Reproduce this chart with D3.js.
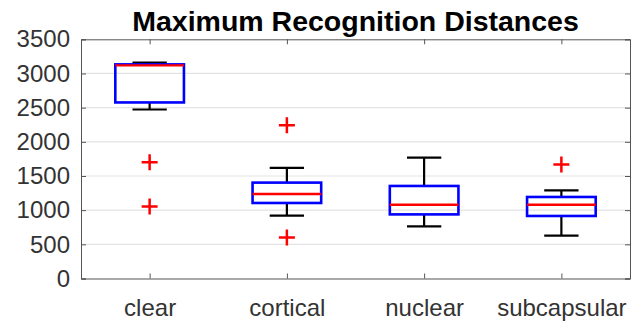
<!DOCTYPE html>
<html><head><meta charset="utf-8">
<script src="https://cdn.jsdelivr.net/npm/d3@7"></script>
<style>body{margin:0;background:#fff;} svg{display:block;}</style>
</head><body>
<svg id="c" width="632" height="325"></svg>
<script>
const categories = ["clear", "cortical", "nuclear", "subcapsular"];
const lowerWhisker = [2473, 919, 762, 626];
const q1 = [2576, 1105, 938, 915];
const median = [3118, 1237, 1080, 1080];
const q3 = [3133, 1403, 1354, 1193];
const upperWhisker = [3158, 1618, 1769, 1290];
const outliers = [[1700, 1055], [2243, 601], [], [1667]];
const yTicks = [0, 500, 1000, 1500, 2000, 2500, 3000, 3500];
const title = "Maximum Recognition Distances";

const svg = d3.select("#c");
const L = 81, R = 630, T = 39.3, B = 278.5;
const x = d3.scaleLinear().domain([0.5, 4.5]).range([L, R]);
const y = d3.scaleLinear().domain([0, 3500]).range([B, T]);
const axisColor = "#555";
const font = "Liberation Sans, Arial, sans-serif";

// grid
svg.append("g").selectAll("line").data(yTicks.slice(1, -1)).join("line")
  .attr("x1", L).attr("x2", R).attr("y1", d => y(d)).attr("y2", d => y(d))
  .attr("stroke", "#e3e3e3").attr("stroke-width", 1.2);

// axes
const yAxis = d3.axisLeft(y).tickValues(yTicks).tickFormat(d3.format("d")).tickSize(-5).tickPadding(11);
const gy = svg.append("g").attr("transform", `translate(${L},0)`).call(yAxis);
gy.select(".domain").attr("stroke", axisColor);
gy.selectAll(".tick line").attr("stroke", axisColor);
gy.selectAll("text").attr("font-family", font).attr("font-size", 24).attr("fill", "#333");

const gyR = svg.append("g").attr("transform", `translate(${R},0)`).call(d3.axisRight(y).tickValues(yTicks).tickSize(-5).tickFormat(""));
gyR.select(".domain").attr("stroke", axisColor);
gyR.selectAll(".tick line").attr("stroke", axisColor);

const xAxis = d3.axisBottom(x).tickValues([1, 2, 3, 4]).tickFormat((d, i) => categories[i]).tickSize(-5).tickPadding(20.5);
const gx = svg.append("g").attr("transform", `translate(0,${B})`).call(xAxis);
gx.select(".domain").attr("stroke", axisColor);
gx.selectAll(".tick line").attr("stroke", axisColor);
gx.selectAll("text").attr("font-family", font).attr("font-size", 24).attr("fill", "#333");

const gxT = svg.append("g").attr("transform", `translate(0,${T})`).call(d3.axisTop(x).tickValues([1, 2, 3, 4]).tickSize(-5).tickFormat(""));
gxT.select(".domain").attr("stroke", axisColor);
gxT.selectAll(".tick line").attr("stroke", axisColor);

// boxes
const data = categories.map((c, i) => ({ i: i + 1, lo: lowerWhisker[i], q1: q1[i], med: median[i], q3: q3[i], hi: upperWhisker[i], out: outliers[i] }));
const bw = 0.25, cw = 0.125;
const g = svg.append("g");
data.forEach(d => {
  const gg = g.append("g");
  gg.append("line").attr("x1", x(d.i)).attr("x2", x(d.i)).attr("y1", y(d.q3)).attr("y2", y(d.hi)).attr("stroke", "#000").attr("stroke-width", 2.2);
  gg.append("line").attr("x1", x(d.i)).attr("x2", x(d.i)).attr("y1", y(d.q1)).attr("y2", y(d.lo)).attr("stroke", "#000").attr("stroke-width", 2.2);
  gg.append("line").attr("x1", x(d.i - cw)).attr("x2", x(d.i + cw)).attr("y1", y(d.hi)).attr("y2", y(d.hi)).attr("stroke", "#000").attr("stroke-width", 2.2);
  gg.append("line").attr("x1", x(d.i - cw)).attr("x2", x(d.i + cw)).attr("y1", y(d.lo)).attr("y2", y(d.lo)).attr("stroke", "#000").attr("stroke-width", 2.2);
  gg.append("rect").attr("x", x(d.i - bw)).attr("width", x(d.i + bw) - x(d.i - bw))
    .attr("y", y(d.q3)).attr("height", y(d.q1) - y(d.q3))
    .attr("fill", "none").attr("stroke", "#0000ff").attr("stroke-width", 2.6);
  gg.append("line").attr("x1", x(d.i - bw)).attr("x2", x(d.i + bw)).attr("y1", y(d.med)).attr("y2", y(d.med)).attr("stroke", "#ff0000").attr("stroke-width", 2.4);
  d.out.forEach(o => {
    const cx = x(d.i), cy = y(o), s = 8;
    gg.append("path").attr("d", `M${cx - s},${cy}H${cx + s}M${cx},${cy - s}V${cy + s}`).attr("stroke", "#ff0000").attr("stroke-width", 2.5).attr("fill", "none");
  });
});

svg.append("text").attr("x", (L + R) / 2).attr("y", 31).attr("text-anchor", "middle")
  .attr("font-family", font).attr("font-weight", "bold").attr("font-size", 28.5)
  .attr("fill", "#000").text(title);
</script>
</body></html>
